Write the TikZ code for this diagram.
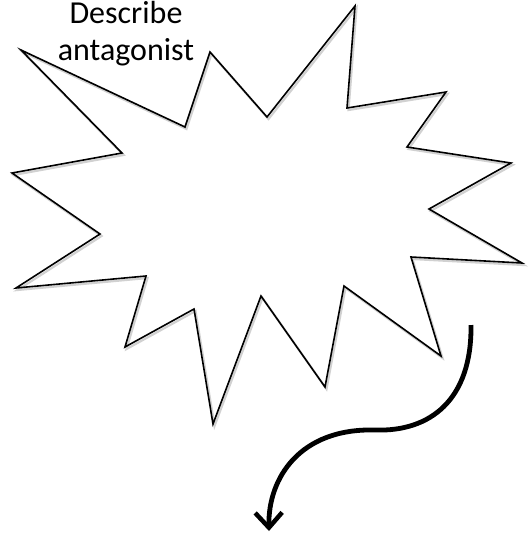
\documentclass[tikz,border=0pt]{standalone}
\usepackage{fontspec}
\setmainfont{Carlito}
\usetikzlibrary{arrows.meta}
\begin{document}
\begin{tikzpicture}[x=1pt,y=-1pt,
  starline/.style={draw=black,line width=1.6pt,line join=miter},
  shadowline/.style={draw=black!18,line width=2.2pt},
  curvearrow/.style={draw=black,line width=4.8pt,-{Straight Barb[length=15pt,width=27pt,line width=4.5pt]}},
  lbl/.style={font=\fontsize{32}{38}\selectfont,inner sep=0pt,anchor=base}]
\useasboundingbox (0,0) rectangle (528,539);
\def\starpath{(21,50) -- (185,127) -- (210,52) -- (267,117) -- (355,6) -- (347,108) -- (446,92) -- (407,147) -- (511,163) -- (429,209) -- (522,263) -- (411,257) -- (441,356) -- (344,286) -- (325,387) -- (261,296) -- (213,424) -- (194,309) -- (125,347) -- (146,276) -- (16,288) -- (100,234) -- (12,173) -- (122,153) -- cycle}
\begin{scope}[shift={(1.5,2)}]
\draw[shadowline] \starpath;
\end{scope}
\draw[starline] \starpath;
\draw[curvearrow] (471,325) .. controls (472,400) and (430,432) .. (375,430) .. controls (300,428) and (268,478) .. (269,531);
\node[lbl] (t1) at (126,23) {Describe};
\node[lbl] (t2) at (126,60) {antagonist};
\end{tikzpicture}
\end{document}
